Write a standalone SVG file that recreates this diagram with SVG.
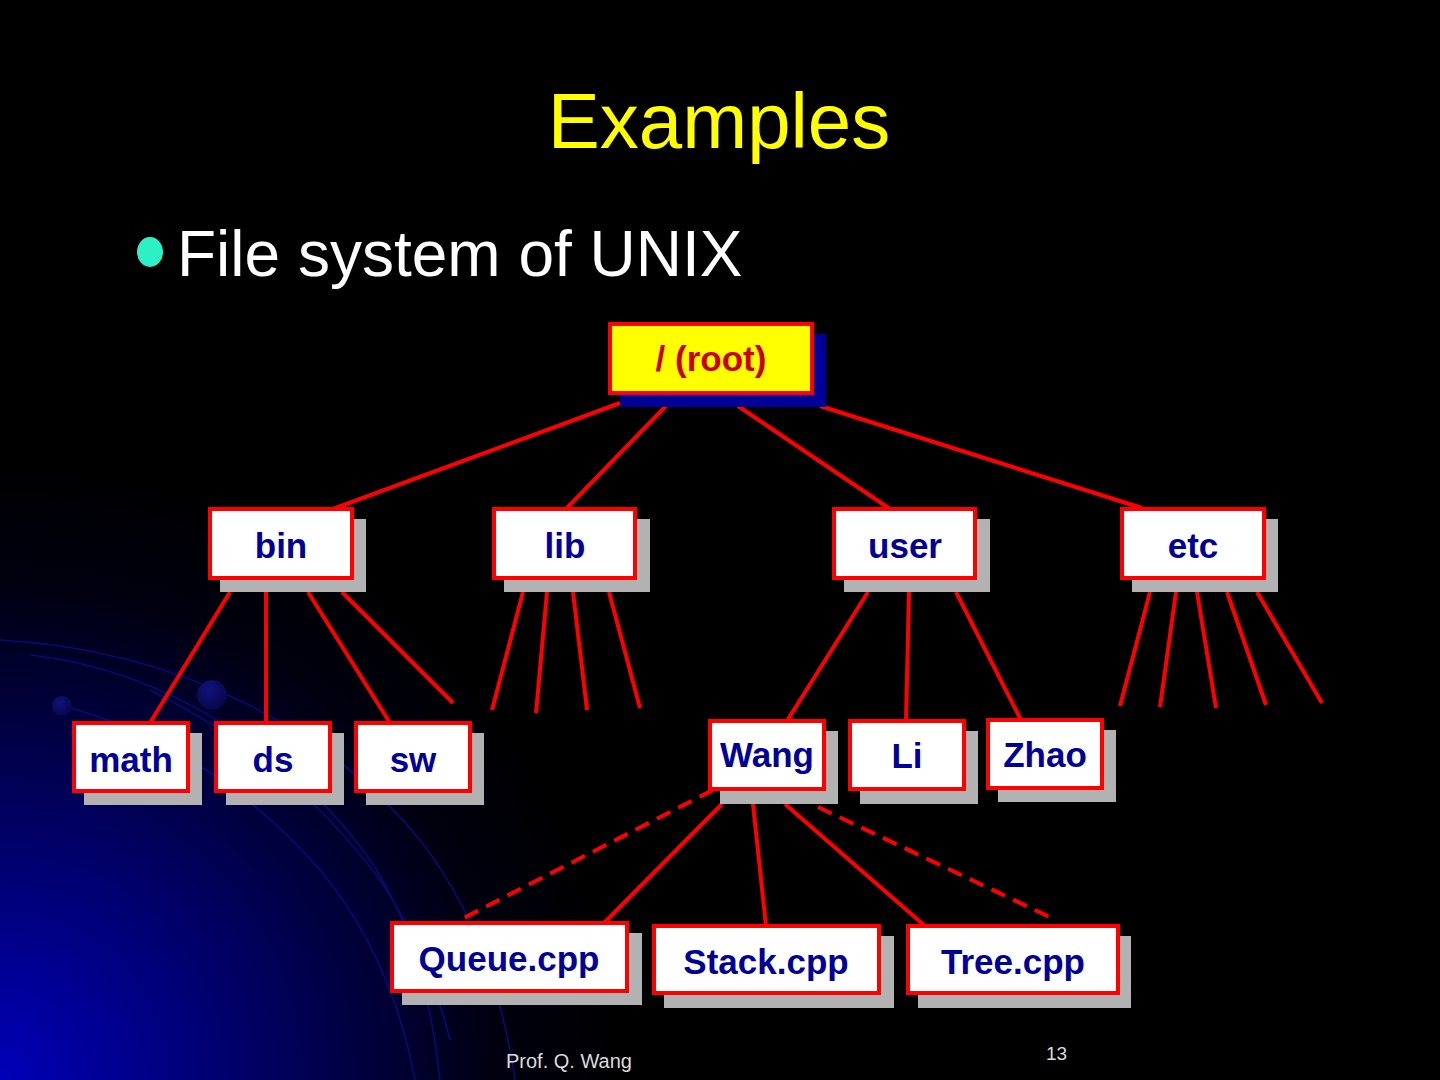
<svg xmlns="http://www.w3.org/2000/svg" width="1440" height="1080" viewBox="0 0 1440 1080">
<style>
.box{fill:#ffffff;stroke:#ff0000;stroke-width:4}
.shadow{fill:#b2b2b2}
.lbl{font-family:"Liberation Sans",Arial,sans-serif;font-weight:bold;font-size:35px;fill:#000099;text-anchor:middle}
.edge{stroke:#ff0000;stroke-width:4;fill:none}
.dash{stroke-dasharray:15 9}
.arc{fill:none;stroke:#0a0a74;stroke-width:1.6}
</style>
<defs>
<radialGradient id="bg" cx="0" cy="1080" r="620" gradientUnits="userSpaceOnUse">
<stop offset="0" stop-color="#0000b8"/>
<stop offset="0.45" stop-color="#00005c"/>
<stop offset="0.8" stop-color="#000010"/>
<stop offset="1" stop-color="#000000"/>
</radialGradient>
<radialGradient id="dot" cx="0.4" cy="0.35" r="0.7">
<stop offset="0" stop-color="#12127a"/>
<stop offset="1" stop-color="#06064a"/>
</radialGradient>
</defs>
<rect x="0" y="0" width="1440" height="1080" fill="#000000"/>
<rect x="0" y="0" width="1440" height="1080" fill="url(#bg)"/>
<g id="decor">
<path class="arc" d="M0,640 C180,650 330,730 420,840 C470,905 500,980 515,1080"/>
<path class="arc" d="M30,655 C170,670 300,760 370,860 C410,920 430,990 440,1080"/>
<path class="arc" d="M62,706 C160,730 250,790 320,870 C370,930 400,1000 415,1080"/>
<path class="arc" d="M150,690 C250,740 320,800 380,880 C420,940 440,1000 450,1040"/>
<circle cx="62" cy="706" r="10" fill="url(#dot)"/>
<circle cx="212" cy="695" r="15" fill="url(#dot)"/>
</g>
<text x="719" y="148" font-family="Liberation Sans,Arial,sans-serif" font-size="78" fill="#ffff00" text-anchor="middle">Examples</text>
<ellipse cx="150" cy="252" rx="13" ry="15" fill="#2ef0c6"/>
<text x="177" y="276" font-family="Liberation Sans,Arial,sans-serif" font-size="64" fill="#ffffff">File system of UNIX</text>
<g id="connectors">
<line class="edge" x1="620" y1="403" x2="333" y2="509"/>
<line class="edge" x1="666" y1="406" x2="566" y2="509"/>
<line class="edge" x1="738" y1="406" x2="890" y2="509"/>
<line class="edge" x1="820" y1="406" x2="1142" y2="508"/>
<line class="edge" x1="230" y1="592" x2="150" y2="723"/>
<line class="edge" x1="266" y1="592" x2="266" y2="723"/>
<line class="edge" x1="308" y1="592" x2="390" y2="723"/>
<line class="edge" x1="342" y1="592" x2="453" y2="703"/>
<line class="edge" x1="523" y1="592" x2="492" y2="710"/>
<line class="edge" x1="547" y1="592" x2="536" y2="713"/>
<line class="edge" x1="573" y1="592" x2="587" y2="710"/>
<line class="edge" x1="609" y1="592" x2="640" y2="708"/>
<line class="edge" x1="1150" y1="592" x2="1120" y2="706"/>
<line class="edge" x1="1176" y1="592" x2="1160" y2="707"/>
<line class="edge" x1="1197" y1="592" x2="1216" y2="708"/>
<line class="edge" x1="1227" y1="592" x2="1266" y2="705"/>
<line class="edge" x1="1257" y1="592" x2="1322" y2="703"/>
<line class="edge" x1="868" y1="592" x2="787" y2="721"/>
<line class="edge" x1="909" y1="592" x2="906" y2="721"/>
<line class="edge" x1="956" y1="592" x2="1021" y2="720"/>
<line class="edge" x1="722" y1="804" x2="604" y2="923"/>
<line class="edge" x1="753" y1="804" x2="766" y2="926"/>
<line class="edge" x1="785" y1="804" x2="925" y2="926"/>
<line class="edge dash" x1="713" y1="790" x2="458" y2="921"/>
<line class="edge dash" x1="818" y1="807" x2="1056" y2="920"/>
</g>
<g id="node-root">
<rect x="620" y="334" width="206" height="73" fill="#000099"/>
<rect x="610" y="324" width="202" height="69" fill="#ffff00" stroke="#ff0000" stroke-width="4"/>
<text x="711" y="371" class="lbl" style="fill:#cc0000">/ (root)</text>
</g>
<g id="node-bin">
<rect class="shadow" x="220" y="519" width="146" height="73"/>
<rect class="box" x="210" y="509" width="142" height="69"/>
<text class="lbl" x="281" y="558">bin</text>
</g>
<g id="node-lib">
<rect class="shadow" x="504" y="519" width="146" height="73"/>
<rect class="box" x="494" y="509" width="141" height="69"/>
<text class="lbl" x="565" y="558">lib</text>
</g>
<g id="node-user">
<rect class="shadow" x="844" y="519" width="146" height="73"/>
<rect class="box" x="834" y="509" width="141" height="69"/>
<text class="lbl" x="905" y="558">user</text>
</g>
<g id="node-etc">
<rect class="shadow" x="1132" y="519" width="146" height="73"/>
<rect class="box" x="1122" y="509" width="142" height="69"/>
<text class="lbl" x="1193" y="558">etc</text>
</g>
<g id="node-math">
<rect class="shadow" x="84" y="733" width="118" height="72"/>
<rect class="box" x="74" y="723" width="114" height="68"/>
<text class="lbl" x="131" y="772">math</text>
</g>
<g id="node-ds">
<rect class="shadow" x="226" y="733" width="118" height="72"/>
<rect class="box" x="216" y="723" width="114" height="68"/>
<text class="lbl" x="273" y="772">ds</text>
</g>
<g id="node-sw">
<rect class="shadow" x="366" y="733" width="118" height="72"/>
<rect class="box" x="356" y="723" width="114" height="68"/>
<text class="lbl" x="413" y="772">sw</text>
</g>
<g id="node-wang">
<rect class="shadow" x="720" y="731" width="118" height="73"/>
<rect class="box" x="710" y="721" width="114" height="68"/>
<text class="lbl" x="767" y="767">Wang</text>
</g>
<g id="node-li">
<rect class="shadow" x="860" y="731" width="118" height="73"/>
<rect class="box" x="850" y="721" width="114" height="68"/>
<text class="lbl" x="907" y="768">Li</text>
</g>
<g id="node-zhao">
<rect class="shadow" x="998" y="730" width="118" height="72"/>
<rect class="box" x="988" y="720" width="114" height="68"/>
<text class="lbl" x="1045" y="767">Zhao</text>
</g>
<g id="node-queue">
<rect class="shadow" x="402" y="933" width="240" height="72"/>
<rect class="box" x="392" y="923" width="235" height="68"/>
<text class="lbl" x="509" y="971">Queue.cpp</text>
</g>
<g id="node-stack">
<rect class="shadow" x="664" y="936" width="230" height="72"/>
<rect class="box" x="654" y="926" width="225" height="67"/>
<text class="lbl" x="766" y="974">Stack.cpp</text>
</g>
<g id="node-tree">
<rect class="shadow" x="918" y="936" width="213" height="72"/>
<rect class="box" x="908" y="926" width="210" height="67"/>
<text class="lbl" x="1013" y="974">Tree.cpp</text>
</g>
<text x="506" y="1068" font-family="Liberation Sans,Arial,sans-serif" font-size="20" fill="#dcdcdc">Prof. Q. Wang</text>
<text x="1046" y="1060" font-family="Liberation Sans,Arial,sans-serif" font-size="19" fill="#dcdcdc">13</text>
</svg>
